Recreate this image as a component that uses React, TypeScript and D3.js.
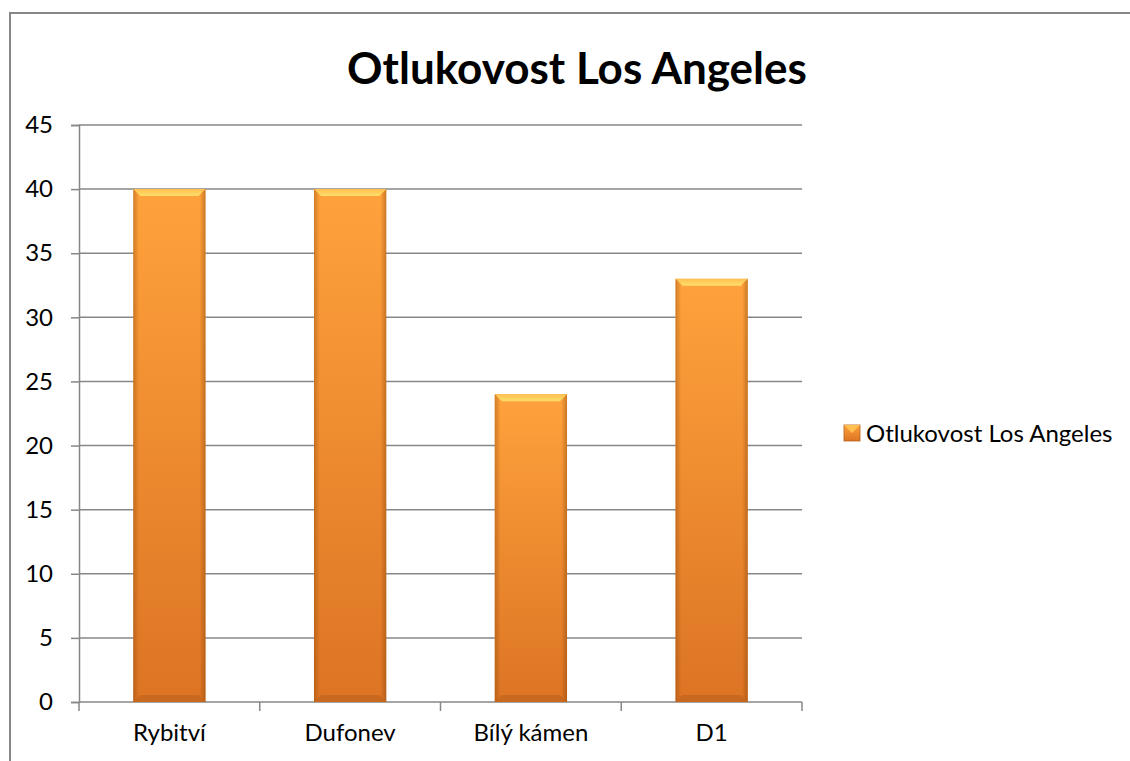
import React, { useEffect, useRef } from 'react';
import * as d3 from 'd3';

const categories = ['Rybitví', 'Dufonev', 'Bílý kámen', 'D1'];
const values = [40, 40, 24, 33];
const yTicks = [0, 5, 10, 15, 20, 25, 30, 35, 40, 45];
const seriesName = 'Otlukovost Los Angeles';
const title = 'Otlukovost Los Angeles';

const W = 1130;
const H = 761;
const font = 'Lato, "Open Sans", sans-serif';

const App: React.FC = () => {
  const svgRef = useRef<SVGSVGElement>(null);

  useEffect(() => {
    const svg = d3.select(svgRef.current);
    svg.selectAll('*').remove();

    const x = d3.scaleBand<string>().domain(categories).range([79, 802]).paddingInner(0.6).paddingOuter(0.3);
    const y = d3.scaleLinear().domain([0, 45]).range([702, 125]);

    const defs = svg.append('defs');
    const vg = defs.append('linearGradient').attr('id', 'barV').attr('x1', 0).attr('y1', 0).attr('x2', 0).attr('y2', 1);
    vg.append('stop').attr('offset', '0%').attr('stop-color', '#ffa23c');
    vg.append('stop').attr('offset', '100%').attr('stop-color', '#dc7424');
    const hg = defs.append('linearGradient').attr('id', 'barH').attr('x1', 0).attr('y1', 0).attr('x2', 1).attr('y2', 0);
    hg.append('stop').attr('offset', '0%').attr('stop-color', '#7a3a00').attr('stop-opacity', 0.35);
    hg.append('stop').attr('offset', '8%').attr('stop-color', '#7a3a00').attr('stop-opacity', 0);
    hg.append('stop').attr('offset', '92%').attr('stop-color', '#7a3a00').attr('stop-opacity', 0);
    hg.append('stop').attr('offset', '100%').attr('stop-color', '#7a3a00').attr('stop-opacity', 0.4);
    const tg = defs.append('linearGradient').attr('id', 'barTop').attr('x1', 0).attr('y1', 0).attr('x2', 0).attr('y2', 1);
    tg.append('stop').attr('offset', '0%').attr('stop-color', '#ffc050');
    tg.append('stop').attr('offset', '100%').attr('stop-color', '#ffdf6a');

    // chart border
    svg.append('rect').attr('x', 10).attr('y', 13).attr('width', W).attr('height', H)
      .attr('fill', 'white').attr('stroke', '#878787').attr('stroke-width', 2);

    svg.append('text').attr('x', 577).attr('y', 84).attr('text-anchor', 'middle')
      .attr('font-family', font).attr('font-weight', 'bold').attr('font-size', 44).text(title);

    // gridlines
    svg.append('g').selectAll('line').data(yTicks.filter((t) => t > 0)).join('line')
      .attr('x1', 79).attr('x2', 802).attr('y1', (d) => y(d)).attr('y2', (d) => y(d))
      .attr('stroke', '#878787').attr('stroke-width', 1.5);

    // y axis
    const yAxis = svg.append('g').attr('transform', 'translate(79,0)')
      .call(d3.axisLeft(y).tickValues(yTicks).tickSize(8).tickPadding(18));
    yAxis.select('.domain').attr('stroke', '#878787').attr('stroke-width', 1.5);
    yAxis.selectAll('.tick line').attr('stroke', '#878787').attr('stroke-width', 1.5);
    yAxis.selectAll('.tick text').attr('font-family', font).attr('font-size', 24).attr('fill', 'black');

    // x axis
    const xAxis = svg.append('g').attr('transform', `translate(0,${y(0)})`)
      .call(d3.axisBottom(x).tickSize(0).tickPadding(22));
    xAxis.select('.domain').attr('d', 'M79,0H802').attr('stroke', '#878787').attr('stroke-width', 1.5);
    xAxis.selectAll('.tick text').attr('font-family', font).attr('font-size', 24).attr('fill', 'black');
    const bounds = categories.map((_, i) => 79 + i * x.step()).concat([802]);
    xAxis.append('g').selectAll('line').data(bounds).join('line')
      .attr('x1', (d) => d).attr('x2', (d) => d).attr('y1', 0).attr('y2', 9)
      .attr('stroke', '#878787').attr('stroke-width', 1.5);

    // bars
    const bars = svg.append('g').selectAll('g').data(categories).join('g');
    bars.append('rect')
      .attr('x', (d) => x(d)!).attr('y', (_, i) => y(values[i]))
      .attr('width', x.bandwidth()).attr('height', (_, i) => y(0) - y(values[i]))
      .attr('fill', 'url(#barV)');
    bars.append('rect')
      .attr('x', (d) => x(d)!).attr('y', (_, i) => y(values[i]))
      .attr('width', x.bandwidth()).attr('height', (_, i) => y(0) - y(values[i]))
      .attr('fill', 'url(#barH)');
    // top bevel
    bars.append('path')
      .attr('d', (d, i) => {
        const x0 = x(d)!, x1 = x0 + x.bandwidth(), t = y(values[i]), b = 7;
        return `M${x0},${t}H${x1}L${x1 - b},${t + b}H${x0 + b}Z`;
      })
      .attr('fill', 'url(#barTop)');
    // bottom bevel
    bars.append('path')
      .attr('d', (d) => {
        const x0 = x(d)!, x1 = x0 + x.bandwidth(), bt = y(0), b = 7;
        return `M${x0},${bt}H${x1}L${x1 - b},${bt - b}H${x0 + b}Z`;
      })
      .attr('fill', '#c4661e').attr('opacity', 0.8);

    // legend
    const lg = svg.append('g').attr('transform', 'translate(844,425)');
    lg.append('rect').attr('width', 16).attr('height', 16).attr('fill', 'url(#barV)').attr('stroke', '#b5621c').attr('stroke-width', 0.8);
    lg.append('path').attr('d', 'M0,0H16L8,8Z').attr('fill', '#ffc050');
    lg.append('text').attr('x', 22).attr('y', 8).attr('dy', '0.36em')
      .attr('font-family', font).attr('font-size', 24).attr('fill', 'black').text(seriesName);

    return () => {
      svg.selectAll('*').remove();
    };
  }, []);

  return <svg ref={svgRef} width={W} height={H} style={{ position: 'absolute', left: 0, top: 0 }}></svg>;
};

export default App;
